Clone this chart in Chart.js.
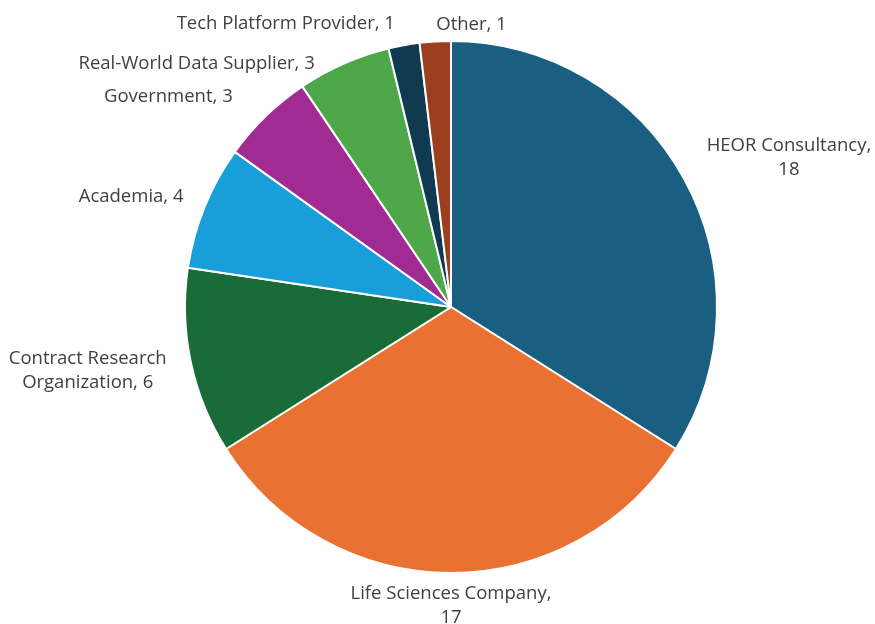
<!DOCTYPE html>
<html>
<head>
<meta charset="utf-8">
<script src="https://cdn.jsdelivr.net/npm/chart.js@4.4.0/dist/chart.umd.min.js"></script>
<style>
  html, body { margin: 0; padding: 0; background: #ffffff; }
  #wrap { width: 875px; height: 624px; }
</style>
</head>
<body>
<div id="wrap"><canvas id="orgChart" width="875" height="624"></canvas></div>
<script>
// Respondents by organization type
const categories = [
  'HEOR Consultancy',
  'Life Sciences Company',
  'Contract Research Organization',
  'Academia',
  'Government',
  'Real-World Data Supplier',
  'Tech Platform Provider',
  'Other'
];
const counts = [18, 17, 6, 4, 3, 3, 1, 1];
const sliceColors = ['#1a5f82', '#e97132', '#196b37', '#189ed8', '#a02b93', '#4ea84a', '#0f3a50', '#9b401f'];

// how each label is broken into lines
const labelLines = [
  ['HEOR Consultancy,', '18'],
  ['Life Sciences Company,', '17'],
  ['Contract Research', 'Organization, 6'],
  ['Academia, 4'],
  ['Government, 3'],
  ['Real-World Data Supplier, 3'],
  ['Tech Platform Provider, 1'],
  ['Other, 1']
];

// label placement: offset from the point where the slice's mid angle meets the rim
const labelPlace = [
  { dx: 105, dy: -21, align: 'center' },
  { dx: 0, dy: 33, align: 'center' },
  { dx: -103, dy: 9, align: 'center' },
  { dx: -21, dy: -10, align: 'right' },
  { dx: -33, dy: -19, align: 'right' },
  { dx: -29, dy: 0, align: 'right' },
  { dx: -9, dy: -21, align: 'right' },
  { dx: 1, dy: -17, align: 'left' }
];

const outsideLabels = {
  id: 'outsideLabels',
  afterDatasetsDraw(chart) {
    const ctx = chart.ctx;
    const arcs = chart.getDatasetMeta(0).data;
    ctx.save();
    ctx.font = '18.5px "Open Sans", sans-serif';
    ctx.fillStyle = '#404040';
    ctx.textBaseline = 'middle';
    arcs.forEach((arc, i) => {
      const p = labelPlace[i];
      const mid = (arc.startAngle + arc.endAngle) / 2;
      const x = arc.x + Math.cos(mid) * arc.outerRadius + p.dx;
      const y = arc.y + Math.sin(mid) * arc.outerRadius + p.dy;
      const lines = labelLines[i];
      const lh = 24;
      const top = y - (lines.length - 1) * lh / 2;
      ctx.textAlign = p.align;
      lines.forEach((t, k) => ctx.fillText(t, x, top + k * lh));
    });
    ctx.restore();
  }
};

new Chart(document.getElementById('orgChart'), {
  type: 'pie',
  data: {
    labels: categories,
    datasets: [{
      data: counts,
      backgroundColor: sliceColors,
      borderColor: '#ffffff',
      borderWidth: 2
    }]
  },
  options: {
    responsive: false,
    animation: false,
    layout: { padding: { top: 40, bottom: 50, left: 27, right: 0 } },
    plugins: {
      legend: { display: false },
      tooltip: { enabled: false }
    }
  },
  plugins: [outsideLabels]
});
</script>
</body>
</html>
